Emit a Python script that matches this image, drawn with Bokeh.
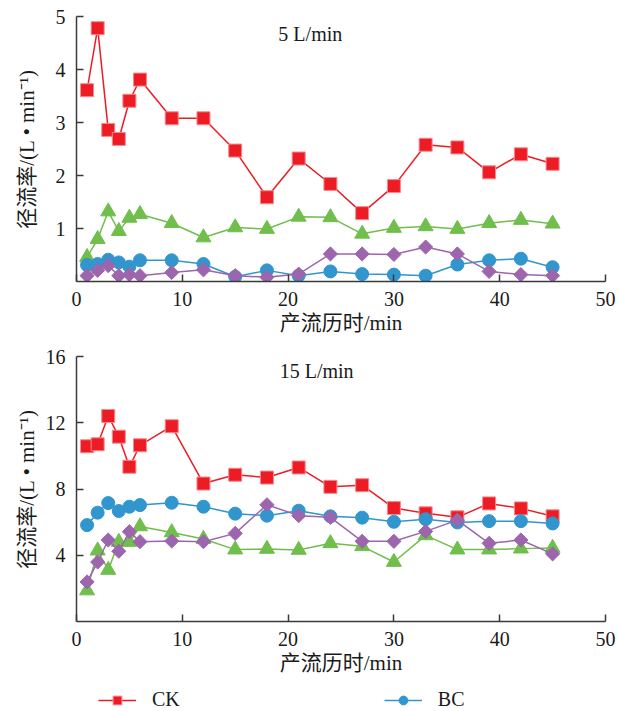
from bokeh.plotting import figure
from bokeh.layouts import column
from bokeh.models import FixedTicker, Label, Legend, LegendItem, Range1d
from bokeh.embed import file_html
from bokeh.resources import INLINE

# ---- data ----
t = [1, 2, 3, 4, 5, 6, 9, 12, 15, 18, 21, 24, 27, 30, 33, 36, 39, 42, 45]

# 5 L/min
ck_5 = [3.61, 4.78, 2.86, 2.69, 3.41, 3.81, 3.08, 3.08, 2.47, 1.59, 2.32,
        1.84, 1.29, 1.80, 2.58, 2.53, 2.06, 2.40, 2.22]
bc_5 = [0.31, 0.33, 0.41, 0.36, 0.28, 0.40, 0.40, 0.33, 0.09, 0.21, 0.11,
        0.19, 0.14, 0.13, 0.11, 0.32, 0.40, 0.43, 0.27]
green_5 = [0.46, 0.80, 1.32, 0.95, 1.20, 1.27, 1.10, 0.83, 1.02, 0.99, 1.22,
           1.21, 0.90, 1.01, 1.04, 0.99, 1.10, 1.16, 1.09]
purple_5 = [0.11, 0.21, 0.30, 0.11, 0.13, 0.11, 0.17, 0.22, 0.11, 0.08, 0.14,
            0.52, 0.52, 0.51, 0.65, 0.52, 0.19, 0.13, 0.11]

# 15 L/min
ck_15 = [10.58, 10.70, 12.41, 11.16, 9.34, 10.64, 11.79, 8.33, 8.86, 8.69, 9.30,
         8.13, 8.23, 6.85, 6.53, 6.29, 7.13, 6.83, 6.35]
bc_15 = [5.82, 6.57, 7.15, 6.67, 6.93, 7.03, 7.17, 6.93, 6.51, 6.39, 6.69,
         6.35, 6.27, 6.02, 6.18, 5.98, 6.06, 6.06, 5.92]
green_15 = [1.87, 4.28, 3.11, 4.80, 4.80, 5.74, 5.38, 4.98, 4.34, 4.38, 4.32,
            4.72, 4.54, 3.59, 5.20, 4.34, 4.34, 4.40, 4.44]
purple_15 = [2.39, 3.59, 4.92, 4.24, 5.42, 4.82, 4.86, 4.82, 5.32, 7.05, 6.39,
             6.29, 4.84, 4.84, 5.44, 6.12, 4.72, 4.92, 4.08]

x_ticks = [0, 10, 20, 30, 40, 50]
y_ticks_5 = [1, 2, 3, 4, 5]
y_ticks_15 = [4, 8, 12, 16]

RED = "#ED1C24"
BLUE = "#3196CE"
GREEN = "#70BE4B"
PURPLE = "#9D65AD"
AXIS = "#3a3a3a"
SERIF = "Liberation Serif, Noto Sans CJK SC"

def make_fig(height, b_top, b_bottom, ymax, yticks, title, tx, ty, ylab_standoff, data):
    p = figure(width=619, height=height, x_range=Range1d(0, 50), y_range=Range1d(0, ymax),
               output_backend="svg", toolbar_location=None,
               min_border_left=76, min_border_right=14,
               min_border_top=b_top, min_border_bottom=b_bottom)
    p.outline_line_color = None
    p.grid.visible = False
    p.background_fill_color = "white"

    for ax in (p.xaxis[0], p.yaxis[0]):
        ax.axis_line_color = AXIS
        ax.axis_line_width = 1.5
        ax.major_tick_line_color = AXIS
        ax.major_tick_line_width = 1.5
        ax.major_tick_in = 7
        ax.major_tick_out = 0
        ax.minor_tick_line_color = None
        ax.major_label_text_font = SERIF
        ax.major_label_text_font_size = "20px"
        ax.major_label_text_color = "#1a1a1a"
        ax.axis_label_text_font = SERIF
        ax.axis_label_text_font_size = "21px"
        ax.axis_label_text_font_style = "normal"
        ax.axis_label_text_color = "#1a1a1a"

    p.xaxis.ticker = FixedTicker(ticks=x_ticks)
    p.yaxis.ticker = FixedTicker(ticks=yticks)
    p.xaxis.axis_label = "产流历时/min"
    p.yaxis.axis_label = "径流率/(L • min⁻¹)"
    p.xaxis.major_label_standoff = 10
    p.xaxis.axis_label_standoff = 2
    p.yaxis.major_label_standoff = 11
    p.yaxis.axis_label_standoff = ylab_standoff

    ck, bc, gr, pu = data
    p.line(t, ck, line_color=RED, line_width=1.5)
    p.scatter(t, ck, marker="square", size=13, fill_color=RED, line_color="#f58a8e", line_width=1)
    p.line(t, gr, line_color=GREEN, line_width=1.5)
    p.scatter(t, gr, marker="triangle", size=15, fill_color=GREEN, line_color=GREEN)
    p.line(t, bc, line_color=BLUE, line_width=1.5)
    p.scatter(t, bc, marker="circle", size=13, fill_color=BLUE, line_color=BLUE)
    p.line(t, pu, line_color=PURPLE, line_width=1.5)
    p.scatter(t, pu, marker="square", size=10, angle=0.7854, fill_color=PURPLE, line_color=PURPLE)

    p.add_layout(Label(x=tx, y=ty, text=title, text_align="center", text_baseline="middle",
                       text_font=SERIF, text_font_size="20px", text_color="#1a1a1a"))
    return p

p1 = make_fig(340, 16, 59, 5, y_ticks_5, "5 L/min", 22.1, 4.67, 14,
              (ck_5, bc_5, green_5, purple_5))
p2 = make_fig(343, 16, 62, 16, y_ticks_15, "15 L/min", 22.7, 15.1, 4,
              (ck_15, bc_15, green_15, purple_15))

# legend strip (series glyphs lie outside its visible range; only the legend shows)
p3 = figure(width=619, height=28, x_range=Range1d(0, 50), y_range=Range1d(100, 101),
            output_backend="svg", toolbar_location=None,
            x_axis_location=None, y_axis_location=None,
            min_border_left=0, min_border_right=0, min_border_top=0, min_border_bottom=0)
p3.outline_line_color = None
p3.grid.visible = False
lk = p3.line(t, ck_15, line_color=RED, line_width=1.5)
sk = p3.scatter(t, ck_15, marker="square", size=10, fill_color=RED, line_color="#f58a8e")
lb = p3.line(t, bc_15, line_color=BLUE, line_width=1.5)
sb = p3.scatter(t, bc_15, marker="circle", size=10, fill_color=BLUE, line_color=BLUE)

legend = Legend(items=[LegendItem(label="CK", renderers=[lk, sk]),
                       LegendItem(label="BC", renderers=[lb, sb])],
                location=(22, 0), orientation="horizontal", spacing=204,
                glyph_width=38, glyph_height=22, label_standoff=16,
                padding=0, margin=0, border_line_color=None,
                background_fill_alpha=0,
                label_text_font=SERIF, label_text_font_size="20px",
                label_text_color="#1a1a1a")
p3.add_layout(legend)

layout = column(p1, p2, p3, spacing=0)
open("out.html", "w").write(file_html(layout, INLINE))
